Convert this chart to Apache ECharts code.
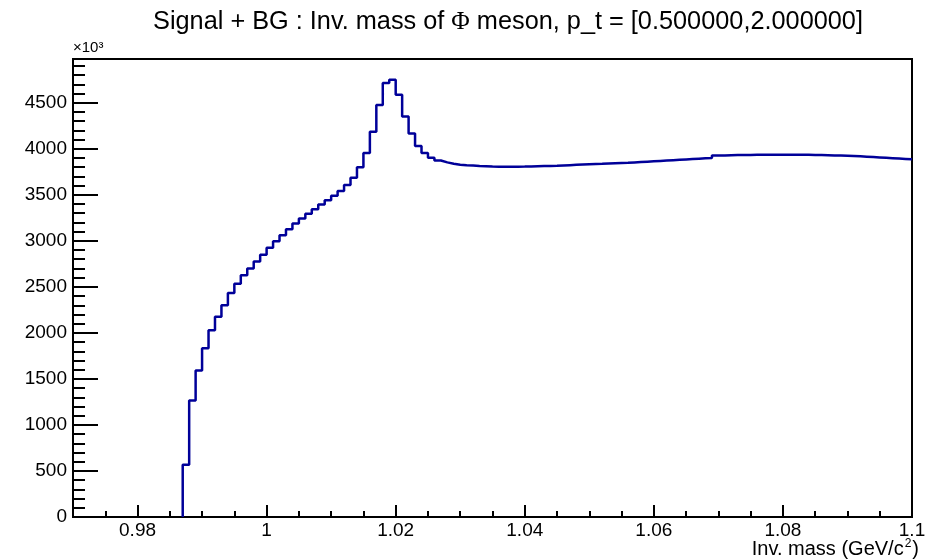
<!DOCTYPE html>
<html>
<head>
<meta charset="utf-8">
<script src="https://cdn.jsdelivr.net/npm/echarts@6/dist/echarts.min.js"></script>
<style>
  html, body { margin: 0; padding: 0; background: #fff; }
  #chart { width: 946px; height: 560px; }
</style>
</head>
<body>
<div id="chart"></div>
<script>
// ---- data (bin width 0.001 GeV, first filled bin starts at 0.987) ----
const binStart = 0.987;
const binWidth = 0.001;
const counts = [
  567, 1265, 1591, 1833, 2028, 2174, 2300, 2434, 2535, 2626,   // 0.987 - 0.996
  2698, 2775, 2850, 2924, 2996, 3060, 3127, 3187, 3242, 3294,   // 0.997 - 1.006
  3344, 3394, 3442, 3490, 3540, 3605, 3686, 3798, 3954, 4184,   // 1.007 - 1.016
  4474, 4714, 4750, 4587, 4350, 4166, 4030, 3954, 3903, 3873,   // 1.017 - 1.026
  3852, 3838, 3827, 3820, 3817, 3813, 3810, 3807, 3805, 3804,   // 1.027 - 1.036
  3804, 3805, 3806, 3808, 3810, 3812, 3814, 3816, 3819, 3822,   // 1.037 - 1.046
  3825, 3828, 3831, 3834, 3836, 3839, 3842, 3845, 3848, 3852,   // 1.047 - 1.056
  3856, 3860, 3864, 3868, 3872, 3876, 3880, 3884, 3888, 3892,   // 1.057 - 1.066
  3896, 3900, 3926, 3928, 3930, 3931, 3932, 3933, 3934, 3935,   // 1.067 - 1.076
  3936, 3936, 3936, 3936, 3935, 3935, 3934, 3933, 3932, 3930,   // 1.077 - 1.086
  3928, 3926, 3924, 3921, 3918, 3914, 3910, 3906, 3902, 3898,   // 1.087 - 1.096
  3894, 3890, 3885                                              // 1.097 - 1.099
];
const xMin = 0.97, xMax = 1.1;
const yMin = 0, yMax = 4975;
const xMajorTicks = [0.98, 1.00, 1.02, 1.04, 1.06, 1.08, 1.10];
const xMinorTicks = [0.975, 0.985, 0.99, 0.995, 1.005, 1.01, 1.015, 1.025, 1.03, 1.035,
  1.045, 1.05, 1.055, 1.065, 1.07, 1.075, 1.085, 1.09, 1.095];
const yMajorTicks = [0, 500, 1000, 1500, 2000, 2500, 3000, 3500, 4000, 4500];
const yMinorTicks = [100, 200, 300, 400, 600, 700, 800, 900, 1100, 1200, 1300, 1400,
  1600, 1700, 1800, 1900, 2100, 2200, 2300, 2400, 2600, 2700, 2800, 2900,
  3100, 3200, 3300, 3400, 3600, 3700, 3800, 3900, 4100, 4200, 4300, 4400,
  4600, 4700, 4800, 4900];
const titleText = '{t|Signal + BG : Inv. mass of }{p|Φ}{t| meson, p_t = [0.500000,2.000000]}';
const xTitle = '{a|Inv. mass (GeV/c}{s|2}{a|)}';
const yScaleLabel = '×10³';

// ---- build histogram outline points (left bin edges, step 'end') ----
const seriesData = [[binStart, 0]];
counts.forEach((c, i) => seriesData.push([+(binStart + i * binWidth).toFixed(3), c]));
seriesData.push([xMax, counts[counts.length - 1]]);

const FONT = 'Liberation Sans';
const chart = echarts.init(document.getElementById('chart'), null, { renderer: 'canvas' });
const fmt = v => String(+(+v).toFixed(3));

chart.setOption({
  animation: false,
  backgroundColor: '#fff',
  title: [
    {
      text: titleText,
      left: 503,
      top: 5,
      textAlign: 'center',
      textStyle: {
        fontFamily: FONT, fontSize: 25.3, fontWeight: 'normal', color: '#000',
        rich: {
          t: { fontFamily: FONT, fontSize: 25.3, color: '#000' },
          p: { fontFamily: 'Liberation Serif', fontSize: 25.3, color: '#000' }
        }
      }
    },
    {
      text: xTitle,
      right: 27,
      top: 538,
      padding: 0,
      textStyle: {
        fontFamily: FONT, fontSize: 20, fontWeight: 'normal', color: '#000',
        rich: {
          a: { fontFamily: FONT, fontSize: 20, lineHeight: 22, color: '#000' },
          s: { fontFamily: FONT, fontSize: 12, lineHeight: 12, color: '#000', verticalAlign: 'top', padding: [0, 1, 0, 1] }
        }
      }
    }
  ],
  grid: {
    left: 73, right: 34, top: 59, bottom: 43,
    containLabel: false, outerBoundsMode: 'none',
    show: true, borderColor: '#000', borderWidth: 2, backgroundColor: 'transparent'
  },
  xAxis: [
    {
      type: 'value', min: xMin, max: xMax, position: 'bottom',
      axisLine: { show: true, onZero: false, lineStyle: { color: '#000', width: 2 } },
      axisTick: { show: true, inside: true, length: 12, customValues: xMajorTicks, lineStyle: { color: '#000', width: 2 } },
      axisLabel: { customValues: xMajorTicks, formatter: fmt, color: '#000', fontFamily: FONT, fontSize: 19, margin: 4 },
      splitLine: { show: false }
    },
    {
      type: 'value', min: xMin, max: xMax, position: 'bottom',
      axisLine: { show: false },
      axisTick: { show: true, inside: true, length: 6, customValues: xMinorTicks, lineStyle: { color: '#000', width: 2 } },
      axisLabel: { show: false },
      splitLine: { show: false }
    }
  ],
  yAxis: [
    {
      type: 'value', min: yMin, max: yMax, position: 'left',
      axisLine: { show: true, onZero: false, lineStyle: { color: '#000', width: 2 } },
      axisTick: { show: true, inside: true, length: 25, customValues: yMajorTicks, lineStyle: { color: '#000', width: 2 } },
      axisLabel: { customValues: yMajorTicks, formatter: fmt, color: '#000', fontFamily: FONT, fontSize: 19, margin: 6 },
      splitLine: { show: false },
      name: yScaleLabel, nameLocation: 'end', nameGap: 4,
      nameTextStyle: { fontFamily: FONT, fontSize: 15, color: '#000', align: 'left' }
    },
    {
      type: 'value', min: yMin, max: yMax, position: 'left',
      axisLine: { show: false },
      axisTick: { show: true, inside: true, length: 12, customValues: yMinorTicks, lineStyle: { color: '#000', width: 2 } },
      axisLabel: { show: false },
      splitLine: { show: false }
    }
  ],
  series: [{
    type: 'line',
    xAxisIndex: 0, yAxisIndex: 0,
    step: 'end',
    showSymbol: false,
    clip: true,
    lineStyle: { color: '#000099', width: 2.5 },
    data: seriesData
  }]
});
</script>
</body>
</html>
